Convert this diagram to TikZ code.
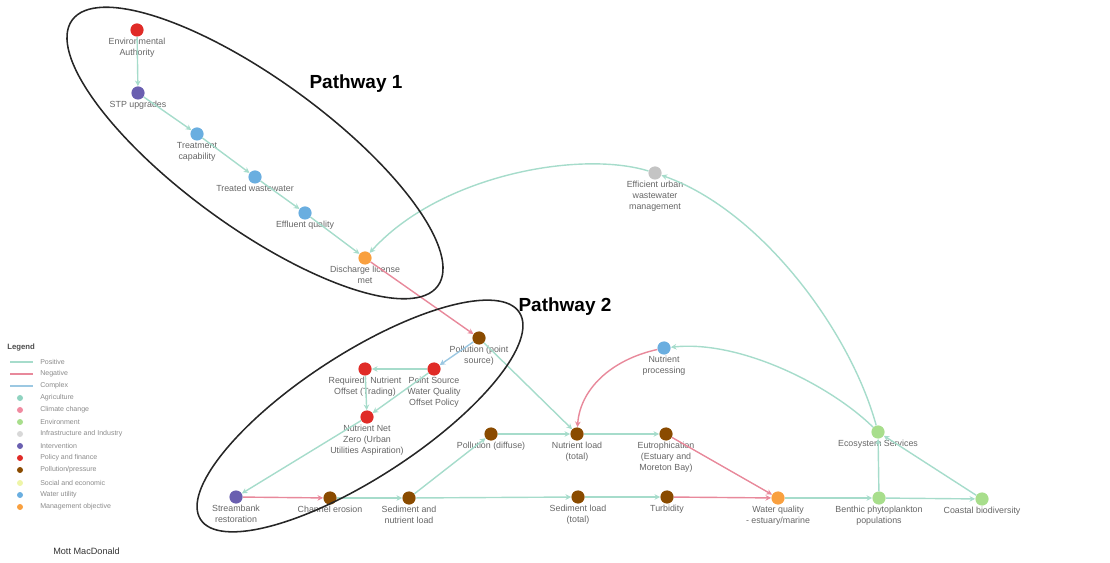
\documentclass[tikz,border=0pt]{standalone}
\usepackage{fontspec}
\setmainfont{Liberation Sans}
\usetikzlibrary{arrows.meta}
\definecolor{agricol}{HTML}{8FD3C0}
\definecolor{climcol}{HTML}{F08AA0}
\definecolor{envcol}{HTML}{A8DE8C}
\definecolor{infcol}{HTML}{D8D8D8}
\definecolor{intcol}{HTML}{6A5FB0}
\definecolor{polcol}{HTML}{E02B27}
\definecolor{prscol}{HTML}{8A4B00}
\definecolor{soccol}{HTML}{EEF5A8}
\definecolor{watcol}{HTML}{6AAEE0}
\definecolor{mgtcol}{HTML}{F9A03F}
\definecolor{urbcol}{HTML}{C4C4C4}
\definecolor{poscol}{HTML}{A6DCCB}
\definecolor{negcol}{HTML}{E8899B}
\definecolor{cpxcol}{HTML}{9CC8E2}
\definecolor{lblcol}{HTML}{666666}
\definecolor{legcol}{HTML}{8A8A8A}
\tikzset{
  factor/.style={circle, inner sep=0pt, minimum size=0.33cm, fill=#1},
  lbl/.style={font=\fontsize{6.3}{7.7}\selectfont, text=lblcol, align=center, inner sep=1pt},
  poslink/.style={draw=poscol, line width=1pt, -{Stealth[length=4pt,width=4pt]}},
  neglink/.style={draw=negcol, line width=1pt, -{Stealth[length=4pt,width=4pt]}},
  cpxlink/.style={draw=cpxcol, line width=1pt, -{Stealth[length=4pt,width=4pt]}},
  pathway/.style={draw=black!85, line width=1.1pt},
  legdot/.style={circle, inner sep=0pt, minimum size=0.15cm, fill=#1},
  legtxt/.style={font=\fontsize{5}{6}\selectfont, text=legcol, anchor=west, inner sep=0pt}
}
\begin{document}
\begin{tikzpicture}[x=0.025cm, y=-0.025cm]
  \useasboundingbox (0,0) rectangle (1110,563);

  \node[factor=polcol, label={[lbl]below:{Environmental\\Authority}}] (ea) at (137,30) {};
  \node[factor=intcol, label={[lbl]below:{STP upgrades}}] (stp) at (138,93) {};
  \node[factor=watcol, label={[lbl]below:{Treatment\\capability}}] (tcap) at (197,134) {};
  \node[factor=watcol, label={[lbl]below:{Treated wastewater}}] (tww) at (255,177) {};
  \node[factor=watcol, label={[lbl]below:{Effluent quality}}] (effq) at (305,213) {};
  \node[factor=mgtcol, label={[lbl]below:{Discharge license\\met}}] (dlm) at (365,258) {};
  \node[factor=urbcol, label={[lbl]below:{Efficient urban\\wastewater\\management}}] (euwm) at (655,173) {};
  \node[factor=prscol, label={[lbl]below:{Pollution (point\\source)}}] (ppoint) at (479,338) {};
  \node[factor=polcol, label={[lbl]below:{Required: Nutrient\\Offset (Trading)}}] (rno) at (365,369) {};
  \node[factor=polcol, label={[lbl]below:{Point Source\\Water Quality\\Offset Policy}}] (pswq) at (434,369) {};
  \node[factor=polcol, label={[lbl]below:{Nutrient Net\\Zero (Urban\\Utilities Aspiration)}}] (nnz) at (367,417) {};
  \node[factor=watcol, label={[lbl]below:{Nutrient\\processing}}] (nproc) at (664,348) {};
  \node[factor=prscol, label={[lbl]below:{Pollution (diffuse)}}] (pdiff) at (491,434) {};
  \node[factor=prscol, label={[lbl]below:{Nutrient load\\(total)}}] (nload) at (577,434) {};
  \node[factor=prscol, label={[lbl]below:{Eutrophication\\(Estuary and\\Moreton Bay)}}] (eutro) at (666,434) {};
  \node[factor=envcol, label={[lbl]below:{Ecosystem Services}}] (eco) at (878,432) {};
  \node[factor=intcol, label={[lbl]below:{Streambank\\restoration}}] (sbr) at (236,497) {};
  \node[factor=prscol, label={[lbl]below:{Channel erosion}}] (cero) at (330,498) {};
  \node[factor=prscol, label={[lbl]below:{Sediment and\\nutrient load}}] (snl) at (409,498) {};
  \node[factor=prscol, label={[lbl]below:{Sediment load\\(total)}}] (sload) at (578,497) {};
  \node[factor=prscol, label={[lbl]below:{Turbidity}}] (turb) at (667,497) {};
  \node[factor=mgtcol, label={[lbl]below:{Water quality\\- estuary/marine}}] (wqem) at (778,498) {};
  \node[factor=envcol, label={[lbl]below:{Benthic phytoplankton\\populations}}] (bpp) at (879,498) {};
  \node[factor=envcol, label={[lbl]below:{Coastal biodiversity}}] (cbio) at (982,499) {};

  \draw[poslink] (ea) -- (stp);
  \draw[poslink] (stp) -- (tcap);
  \draw[poslink] (tcap) -- (tww);
  \draw[poslink] (tww) -- (effq);
  \draw[poslink] (effq) -- (dlm);
  \draw[neglink] (dlm) -- (ppoint);
  \draw[poslink] (euwm) .. controls (580,150) and (440,175) .. (dlm);
  \draw[poslink] (eco) .. controls (850,330) and (760,210) .. (euwm);
  \draw[poslink] (eco) .. controls (830,385) and (740,340) .. (nproc);
  \draw[neglink] (nproc) .. controls (610,360) and (580,390) .. (nload);
  \draw[cpxlink] (ppoint) -- (pswq);
  \draw[poslink] (pswq) -- (rno);
  \draw[poslink] (rno) -- (nnz);
  \draw[poslink] (pswq) -- (nnz);
  \draw[poslink] (nnz) -- (sbr);
  \draw[neglink] (sbr) -- (cero);
  \draw[poslink] (cero) -- (snl);
  \draw[poslink] (snl) -- (pdiff);
  \draw[poslink] (snl) -- (sload);
  \draw[poslink] (sload) -- (turb);
  \draw[neglink] (turb) -- (wqem);
  \draw[poslink] (pdiff) -- (nload);
  \draw[poslink] (ppoint) -- (nload);
  \draw[poslink] (nload) -- (eutro);
  \draw[neglink] (eutro) -- (wqem);
  \draw[poslink] (wqem) -- (bpp);
  \draw[poslink] (bpp) -- (cbio);
  \draw[poslink] (bpp) -- (eco);
  \draw[poslink] (cbio) -- (eco);

  \draw[pathway, rotate around={-36:(255,153)}] (255,153) ellipse [x radius=5.65cm, y radius=1.85cm];
  \draw[pathway, rotate around={33:(360,416)}] (360,416) ellipse [x radius=4.75cm, y radius=1.55cm];
  \node[font=\fontsize{13.5}{16}\selectfont\bfseries] (pw1) at (356,84) {Pathway 1};
  \node[font=\fontsize{13.5}{16}\selectfont\bfseries] (pw2) at (565,307) {Pathway 2};

  \node[font=\fontsize{5.5}{6}\selectfont\bfseries, text=black!70, anchor=west, inner sep=0pt] (legend) at (7,348) {Legend};
  \coordinate (lpa) at (10,362); \coordinate (lpb) at (33,362);
  \coordinate (lna) at (10,374); \coordinate (lnb) at (33,374);
  \coordinate (lca) at (10,386); \coordinate (lcb) at (33,386);
  \draw[poscol, line width=0.8pt] (lpa) -- (lpb);
  \draw[negcol, line width=0.8pt] (lna) -- (lnb);
  \draw[cpxcol, line width=0.8pt] (lca) -- (lcb);
  \node[legtxt] (tpos) at (40,362) {Positive};
  \node[legtxt] (tneg) at (40,374) {Negative};
  \node[legtxt] (tcpx) at (40,386) {Complex};
  \node[legdot=agricol] (dagri) at (20,398) {};
  \node[legtxt] (tagri) at (40,398) {Agriculture};
  \node[legdot=climcol] (dclim) at (20,410) {};
  \node[legtxt] (tclim) at (40,410) {Climate change};
  \node[legdot=envcol] (denv) at (20,422) {};
  \node[legtxt] (tenv) at (40,422) {Environment};
  \node[legdot=infcol] (dinf) at (20,434) {};
  \node[legtxt] (tinf) at (40,434) {Infrastructure and Industry};
  \node[legdot=intcol] (dint) at (20,446) {};
  \node[legtxt] (tint) at (40,446) {Intervention};
  \node[legdot=polcol] (dpol) at (20,458) {};
  \node[legtxt] (tpol) at (40,458) {Policy and finance};
  \node[legdot=prscol] (dprs) at (20,470) {};
  \node[legtxt] (tprs) at (40,470) {Pollution/pressure};
  \node[legdot=soccol] (dsoc) at (20,483) {};
  \node[legtxt] (tsoc) at (40,483) {Social and economic};
  \node[legdot=watcol] (dwat) at (20,495) {};
  \node[legtxt] (twat) at (40,495) {Water utility};
  \node[legdot=mgtcol] (dmgt) at (20,507) {};
  \node[legtxt] (tmgt) at (40,507) {Management objective};

  \node[font=\fontsize{6.5}{8}\selectfont, text=black!80, anchor=west, inner sep=0pt] (mott) at (53,551) {Mott MacDonald};
\end{tikzpicture}
\end{document}
